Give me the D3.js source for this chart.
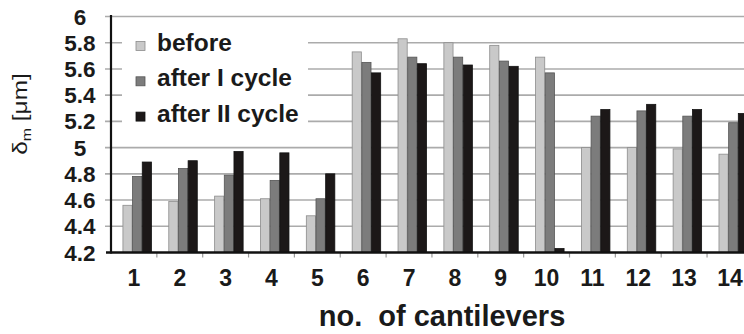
<!DOCTYPE html>
<html>
<head>
<meta charset="utf-8">
<script src="https://cdn.jsdelivr.net/npm/d3@7"></script>
<style>
  html, body { margin: 0; padding: 0; background: #fff; }
  svg { display: block; }
  text { font-family: "Liberation Sans", Arial, sans-serif; fill: #1a1a1a; }
</style>
</head>
<body>
<svg id="chart" width="744" height="334"></svg>
<script>
// Cantilever deflection measurements, three measurement stages per cantilever
const cantilevers = ["1","2","3","4","5","6","7","8","9","10","11","12","13","14"];
const seriesNames = ["before", "after I cycle", "after II cycle"];
const before      = [4.56, 4.59, 4.63, 4.61, 4.48, 5.73, 5.83, 5.80, 5.78, 5.69, 5.00, 5.00, 4.99, 4.95];
const afterCycle1 = [4.78, 4.84, 4.79, 4.75, 4.61, 5.65, 5.69, 5.69, 5.66, 5.57, 5.24, 5.28, 5.24, 5.19];
const afterCycle2 = [4.89, 4.90, 4.97, 4.96, 4.80, 5.57, 5.64, 5.63, 5.62, 4.23, 5.29, 5.33, 5.29, 5.26];
const yTicks = [4.2, 4.4, 4.6, 4.8, 5, 5.2, 5.4, 5.6, 5.8, 6];

const fills   = ["#c9c9c9", "#7c7c7c", "#1c1818"];
const strokes = ["#8c8c8c", "#555555", "#111111"];

const svg = d3.select("#chart");

const axisX = 111, axisY = 252.5, topY = 16.5;
const step = 45.85;

const y = d3.scaleLinear().domain([4.2, 6]).range([axisY, topY]);
const x = d3.scaleBand().domain(cantilevers)
  .range([axisX, axisX + step * cantilevers.length]).padding(0);

const groupWidth = 29;
const inner = d3.scaleBand().domain(seriesNames).range([0, groupWidth]).padding(0);
const groupOffset = (x.bandwidth() - groupWidth) / 2 + 3;

const rows = cantilevers.map((c, i) => ({
  c, values: [before[i], afterCycle1[i], afterCycle2[i]]
}));

// horizontal gridlines (they also form the left tick marks)
svg.append("g").selectAll("line").data(yTicks.filter(t => t > 4.2)).join("line")
  .attr("x1", axisX - 6).attr("x2", 760)
  .attr("y1", d => y(d)).attr("y2", d => y(d))
  .attr("stroke", "#ababab").attr("stroke-width", 1.6);

// legend background masks the gridlines behind it
svg.append("rect").attr("x", 122).attr("y", 26).attr("width", 186).attr("height", 108)
  .attr("fill", "#fff");

// bars
const groups = svg.append("g").selectAll("g").data(rows).join("g")
  .attr("transform", d => `translate(${x(d.c) + groupOffset},0)`);
groups.selectAll("rect")
  .data(d => d.values.map((v, k) => ({ v, k })))
  .join("rect")
  .attr("x", d => inner(seriesNames[d.k]) + 0.5)
  .attr("width", inner.bandwidth() - 0.5)
  .attr("y", d => y(d.v))
  .attr("height", d => axisY - y(d.v))
  .attr("fill", d => fills[d.k])
  .attr("stroke", d => strokes[d.k])
  .attr("stroke-width", 0.8);

// x-axis category separators
svg.append("g").selectAll("line").data(cantilevers.slice(1)).join("line")
  .attr("x1", d => x(d)).attr("x2", d => x(d))
  .attr("y1", axisY).attr("y2", axisY + 5)
  .attr("stroke", "#9a9a9a").attr("stroke-width", 1.2);

// axis lines
svg.append("line").attr("x1", axisX).attr("x2", axisX)
  .attr("y1", topY - 1.5).attr("y2", axisY + 1)
  .attr("stroke", "#111").attr("stroke-width", 2.2);
svg.append("line").attr("x1", axisX - 5).attr("x2", 760)
  .attr("y1", axisY).attr("y2", axisY)
  .attr("stroke", "#111").attr("stroke-width", 2.4);

// y tick labels
svg.append("g").selectAll("text").data(yTicks).join("text")
  .attr("x", 80).attr("y", d => y(d))
  .attr("dy", "0.36em")
  .attr("text-anchor", "middle")
  .attr("font-size", 22.5).attr("font-weight", "bold")
  .text(d => d3.format("~g")(d));

// x tick labels via a bottom axis on the band scale
const xAxis = svg.append("g").attr("transform", `translate(0,${axisY})`)
  .call(d3.axisBottom(x).tickSize(0).tickPadding(17));
xAxis.select(".domain").remove();
xAxis.selectAll("text")
  .attr("font-size", 23).attr("font-weight", "bold")
  .attr("font-family", "Liberation Sans, Arial, sans-serif")
  .attr("fill", "#1a1a1a");

// axis titles
svg.append("text").attr("x", 442).attr("y", 326)
  .attr("text-anchor", "middle")
  .attr("font-size", 29).attr("font-weight", "bold")
  .attr("xml:space", "preserve")
  .text("no.  of cantilevers");

const yTitle = svg.append("text")
  .attr("transform", "translate(27,114) rotate(-90) scale(1.22,1)")
  .attr("text-anchor", "middle")
  .attr("font-size", 20);
yTitle.append("tspan").text("δ");
yTitle.append("tspan").attr("font-size", 13).attr("dy", 4).text("m");
yTitle.append("tspan").attr("dy", -4).text(" [μm]");

// legend
const legend = svg.append("g").selectAll("g").data(seriesNames).join("g")
  .attr("transform", (d, i) => `translate(136,${51 + i * 35.3})`);
legend.append("rect")
  .attr("x", 0).attr("y", -9.5).attr("width", 9).attr("height", 9)
  .attr("fill", (d, i) => fills[i]).attr("stroke", (d, i) => strokes[i]).attr("stroke-width", 0.8);
legend.append("text")
  .attr("x", 21)
  .attr("font-size", 24.5).attr("font-weight", "bold")
  .text(d => d);
</script>
</body>
</html>
